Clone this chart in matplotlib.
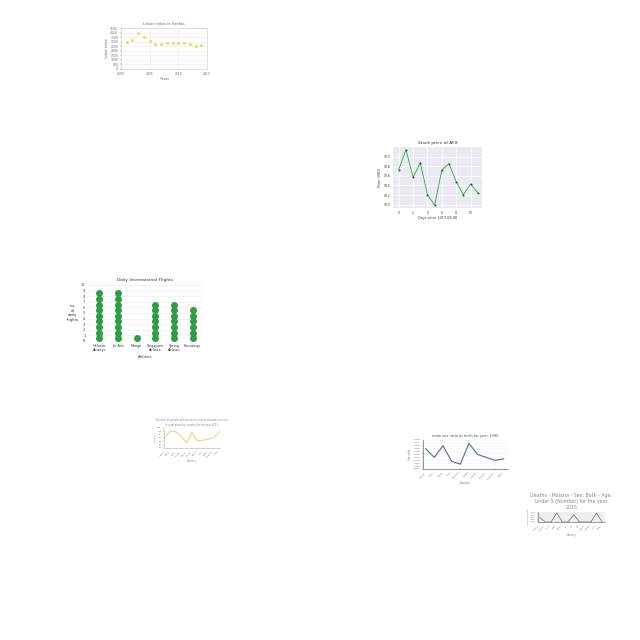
import numpy as np
import matplotlib
matplotlib.use("Agg")
import matplotlib.pyplot as plt

# --- chart 1: labor index (scatter)
labor_years = list(range(2001, 2015))
labor_values = [3015, 3150, 3915, 3510, 3060, 2790, 2745, 2880, 2835, 2835, 2880, 2745, 2565, 2610]

# --- chart 2: stock price
stock_days = list(range(12))
stock_prices = [18.73, 19.14, 18.57, 18.87, 18.21, 17.99, 18.72, 18.85, 18.48, 18.21, 18.43, 18.25]

# --- chart 3: daily flights (dot columns)
airlines = ["Helvetic\nAirways", "Jet Airs", "Mango", "Singapore\nAirlines", "Spring\nAirlines", "Eurowings"]
flights = [9, 9, 1, 7, 7, 6]

# --- chart 4: yellow line
c4_countries = ["Angola", "Benin", "Chad", "Congo", "Gabon", "Ghana", "Kenya", "Mali", "Niger", "Rwanda", "Togo"]
c4_values = [58, 88, 83, 63, 33, 80, 42, 45, 50, 55, 83]

# --- chart 5: sex ratio at birth
c5_countries = ["Austria", "Chile", "Cuba", "Italy", "Jamaica", "Japan", "Mexico", "Norway", "Portugal", "Spain"]
c5_values = [1.062, 1.044, 1.068, 1.036, 1.030, 1.073, 1.050, 1.044, 1.038, 1.041]

# --- chart 6: malaria deaths
c6_countries = ["Algeria", "Bhutan", "Chile", "Cuba", "Egypt", "Fiji", "Iran", "Iraq", "Libya", "Oman", "Peru", "Qatar"]
c6_values = [0.5, 0, 0, 1, 0, 0, 0.8, 0, 0, 0, 1, 0]

fig = plt.figure(figsize=(6.4, 6.4), dpi=100)
W = H = 640.0


def box(left, top, right, bottom):
    return fig.add_axes([left / W, 1 - bottom / H, (right - left) / W, (bottom - top) / H])


def light(ax, col="#cccccc"):
    for s in ax.spines.values():
        s.set_color(col)
        s.set_linewidth(0.4)
    ax.tick_params(length=1, width=0.3, pad=1, labelsize=2.2, colors="#666666")


# chart 1
ax = box(121, 28, 207, 69)
ax.scatter(labor_years, labor_values, s=1.6, color="#f4da6e", zorder=3)
ax.set_xlim(2000, 2015)
ax.set_ylim(0, 4500)
ax.set_xticks([2000, 2005, 2010, 2015])
ax.set_yticks(range(0, 4501, 500))
ax.grid(color="#e6e6e6", linewidth=0.4)
light(ax)
ax.set_title("Labor index in Serbia", fontsize=2.8, color="#666666", pad=2)
ax.set_xlabel("Years", fontsize=2.4, color="#666666", labelpad=1)
ax.set_ylabel("Labor index", fontsize=2.4, color="#666666", labelpad=1)

# chart 2
ax = box(393, 147, 482, 208)
ax.set_facecolor("#eaeaf2")
ax.plot(stock_days, stock_prices, color="#3aa23a", linewidth=0.6, marker="o",
        markersize=1.4, markerfacecolor="#2f4f2f", markeredgewidth=0, zorder=3)
ax.set_xticks(range(0, 11, 2))
ax.set_yticks(np.arange(18.0, 19.01, 0.2))
ax.set_yticklabels([f"{v:.1f}" for v in np.arange(18.0, 19.01, 0.2)])
ax.set_xlim(-0.8, 11.6)
ax.grid(color="white", linewidth=0.5)
ax.set_axisbelow(True)
for s in ax.spines.values():
    s.set_visible(False)
ax.tick_params(length=0, pad=2, labelsize=2.2, colors="#333333")
ax.set_title("Stock price of AFX", fontsize=3.2, color="#333333", pad=2)
ax.set_xlabel("Days since 2017-09-08", fontsize=2.4, color="#333333", labelpad=1)
ax.set_ylabel("Price (USD)", fontsize=2.4, color="#333333", labelpad=1)

# chart 3
ax = box(88, 285, 202, 341)
xs = np.arange(len(airlines))
for x, n in zip(xs, flights):
    ax.scatter([x] * n, np.arange(n) + 0.5, s=16, color="#2e9e44", zorder=3)
ax.set_xlim(-0.6, len(airlines) - 0.5)
ax.set_ylim(0, 10)
ax.set_yticks(range(11))
ax.set_xticks(xs)
ax.set_xticklabels(airlines)
ax.grid(axis="y", color="#e6e6e6", linewidth=0.4)
ax.set_axisbelow(True)
for s in ax.spines.values():
    s.set_visible(False)
ax.tick_params(length=0, pad=2, labelsize=2.4, colors="#333333")
ax.set_title("Daily International Flights", fontsize=3.2, color="#333333", pad=3)
ax.set_xlabel("Airlines", fontsize=2.8, color="#333333", labelpad=2)
ax.set_ylabel("no.\nof\ndaily\nflights", fontsize=2.8, color="#333333", rotation=0,
              labelpad=6, va="center")

# chart 4
ax = box(164, 428, 220, 448)
ax.plot(range(len(c4_values)), c4_values, color="#f5d27a", linewidth=0.8)
ax.set_ylim(10, 100)
ax.set_xlim(-0.2, len(c4_values) - 0.8)
ax.set_xticks(range(len(c4_countries)))
ax.set_xticklabels(c4_countries, rotation=45, ha="right")
ax.set_yticks(range(10, 101, 15))
ax.spines["top"].set_visible(False)
ax.spines["right"].set_visible(False)
light(ax, "#bbbbbb")
ax.tick_params(labelsize=1.6)
ax.set_title("Number of people with access to improved water sources\nin rural areas by country for the year 2011",
             fontsize=1.8, color="#888888", pad=1.5)
ax.set_xlabel("Country", fontsize=1.8, color="#888888", labelpad=1)
ax.set_ylabel("Number", fontsize=1.6, color="#888888", labelpad=1)

# chart 5
ax = box(423, 440, 508, 469)
ax.plot(range(len(c5_values)), c5_values, color="#4f6c9e", linewidth=0.8)
ax.set_ylim(1.02, 1.08)
ax.set_yticks(np.arange(1.02, 1.0801, 0.006))
ax.set_yticklabels([f"{v:.3f}" for v in np.arange(1.02, 1.0801, 0.006)])
ax.set_xlim(-0.3, len(c5_values) - 0.5)
ax.set_xticks(range(len(c5_countries)))
ax.set_xticklabels(c5_countries, rotation=45, ha="right")
ax.spines["top"].set_visible(False)
ax.spines["right"].set_visible(False)
ax.grid(axis="y", color="#eeeeee", linewidth=0.3)
light(ax, "#444444")
ax.tick_params(labelsize=1.7)
ax.set_title("male sex ratio at birth for year 1990", fontsize=2.6, color="#555555", pad=2)
ax.set_xlabel("Country", fontsize=2.0, color="#777777", labelpad=1)
ax.set_ylabel("Sex ratio", fontsize=1.8, color="#777777", labelpad=1)

# chart 6
ax = box(538, 512, 605, 522)
ax.set_facecolor("#eeeeee")
ax.plot(range(len(c6_values)), c6_values, color="#666666", linewidth=0.5)
ax.set_ylim(0, 1.1)
ax.set_yticks([0, 0.25, 0.5, 0.75, 1.0])
ax.set_xlim(-0.3, len(c6_values) - 0.5)
ax.set_xticks(range(len(c6_countries)))
ax.set_xticklabels(c6_countries, rotation=45, ha="right")
ax.spines["top"].set_visible(False)
ax.spines["right"].set_visible(False)
light(ax, "#555555")
ax.tick_params(labelsize=1.5)
ax.set_title("Deaths - Malaria - Sex: Both - Age:\nUnder 5 (Number) for the year\n2015",
             fontsize=3.4, color="#888888", pad=2, linespacing=1.3)
ax.set_xlabel("Country", fontsize=1.8, color="#777777", labelpad=1)
ax.set_ylabel("Deaths (Number)", fontsize=1.4, color="#777777", labelpad=1)

fig.savefig("out.png", dpi=100)
